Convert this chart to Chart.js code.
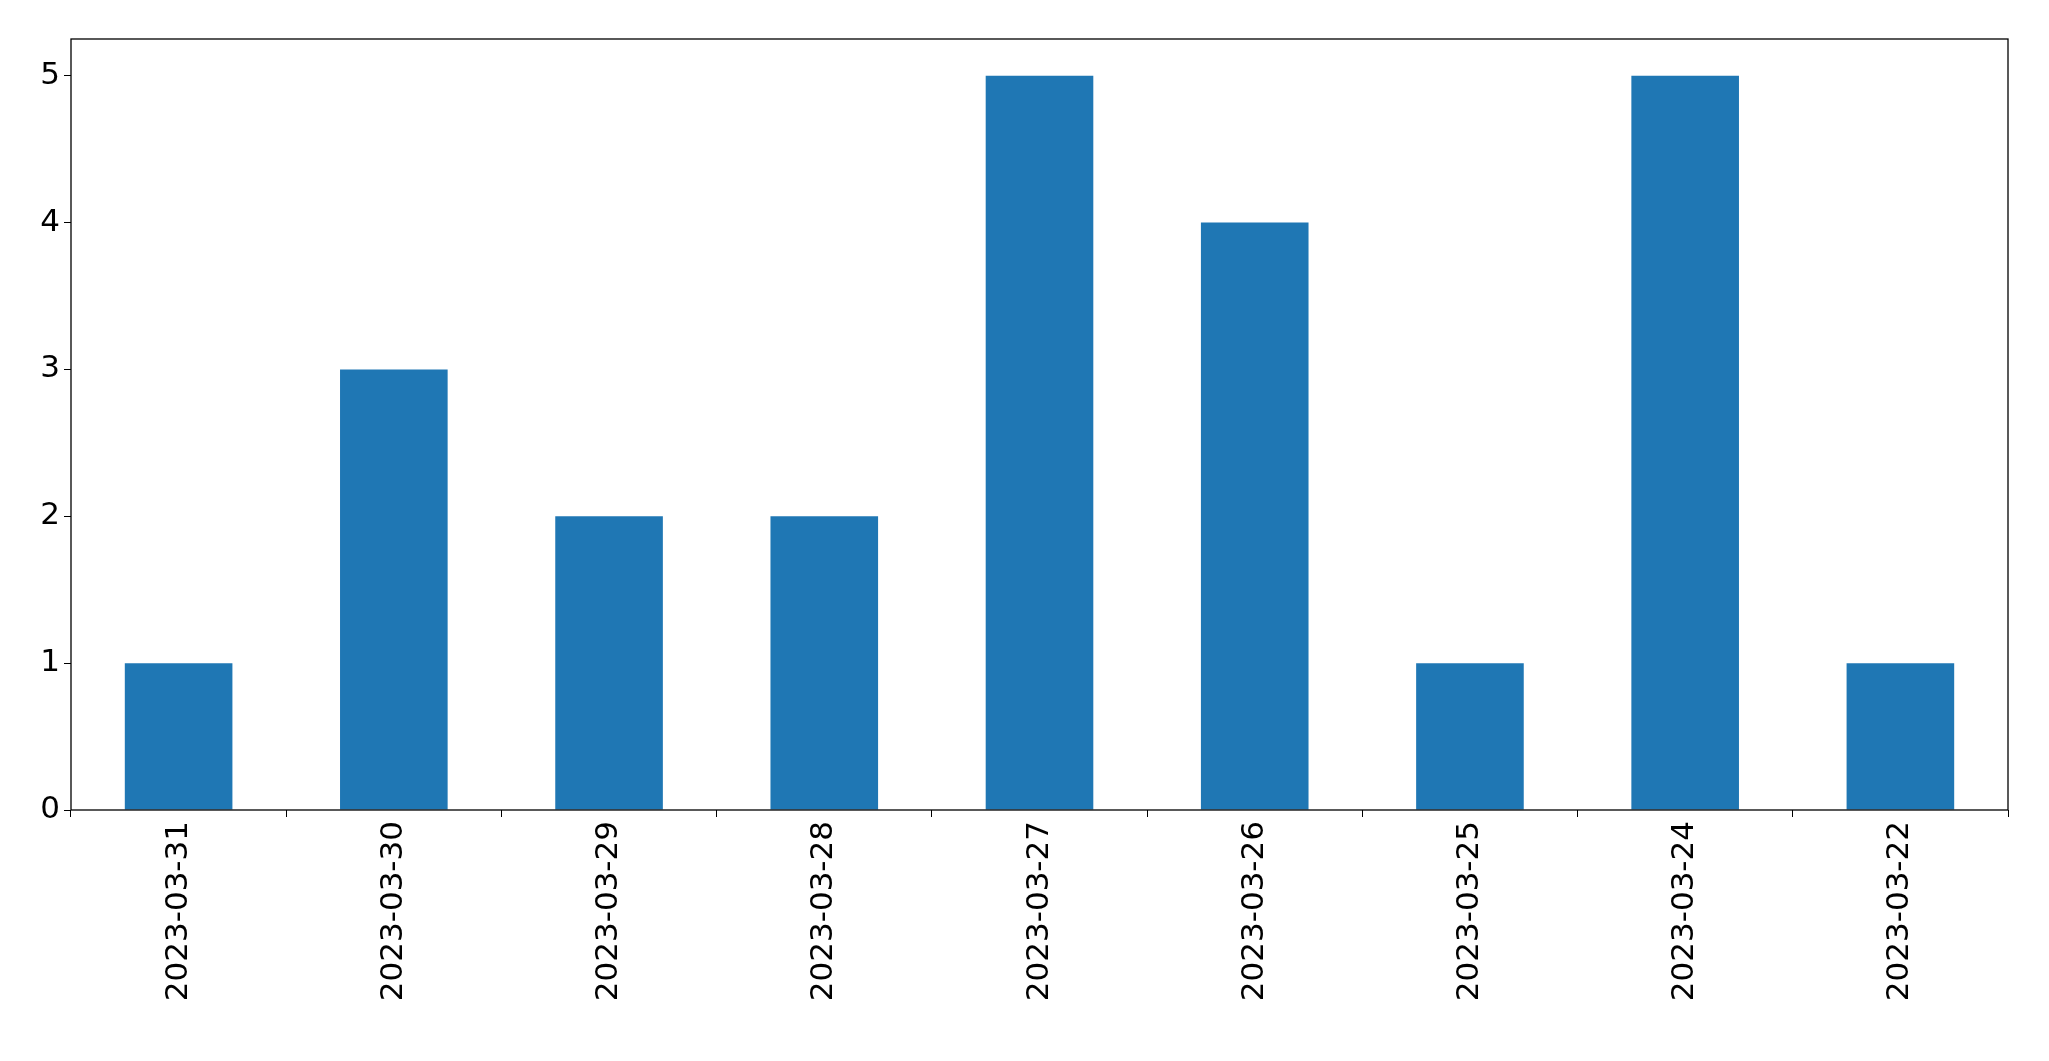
<!DOCTYPE html>
<html>
<head>
<meta charset="utf-8">
<script src="https://cdn.jsdelivr.net/npm/chart.js@4"></script>
<style>
  html, body { margin: 0; padding: 0; background: #fff; }
  #wrap { width: 2049px; height: 1061px; }
</style>
</head>
<body>
<div id="wrap"><canvas id="chart"></canvas></div>
<script>
const categories = ["2023-03-31", "2023-03-30", "2023-03-29", "2023-03-28", "2023-03-27",
  "2023-03-26", "2023-03-25", "2023-03-24", "2023-03-22"];
const counts = [1, 3, 2, 2, 5, 4, 1, 5, 1];
const yTicks = [0, 1, 2, 3, 4, 5];

const frame = {
  id: "frame",
  afterDraw(chart) {
    const { ctx, chartArea: a } = chart;
    ctx.save();
    ctx.strokeStyle = "#000";
    ctx.lineWidth = 1.3;
    ctx.strokeRect(a.left, a.top, a.right - a.left, a.bottom - a.top);
    ctx.restore();
  },
};

Chart.defaults.font.family = "'DejaVu Sans', sans-serif";
Chart.defaults.color = "#000";

new Chart(document.getElementById("chart"), {
  type: "bar",
  data: {
    labels: categories,
    datasets: [{
      data: counts,
      backgroundColor: "#1f77b4",
      categoryPercentage: 1,
      barPercentage: 0.5,
    }],
  },
  options: {
    responsive: true,
    maintainAspectRatio: false,
    animation: false,
    layout: { padding: { top: 39, right: 41, left: 0, bottom: 0 } },
    plugins: { legend: { display: false }, tooltip: { enabled: false } },
    scales: {
      x: {
        grid: { drawOnChartArea: false, tickLength: 7, color: "#000" },
        border: { display: false },
        ticks: { font: { size: 31 }, maxRotation: 90, minRotation: 90, padding: 4 },
        afterFit(s) { s.height = 251; },
      },
      y: {
        min: 0,
        max: 5.25,
        grid: { drawOnChartArea: false, tickLength: 7, color: "#000" },
        border: { display: false },
        ticks: { font: { size: 31 }, stepSize: 1, padding: 4 },
        afterBuildTicks(s) { s.ticks = yTicks.map(v => ({ value: v })); },
        afterFit(s) { s.width = 71; },
      },
    },
  },
  plugins: [frame],
});
</script>
</body>
</html>
